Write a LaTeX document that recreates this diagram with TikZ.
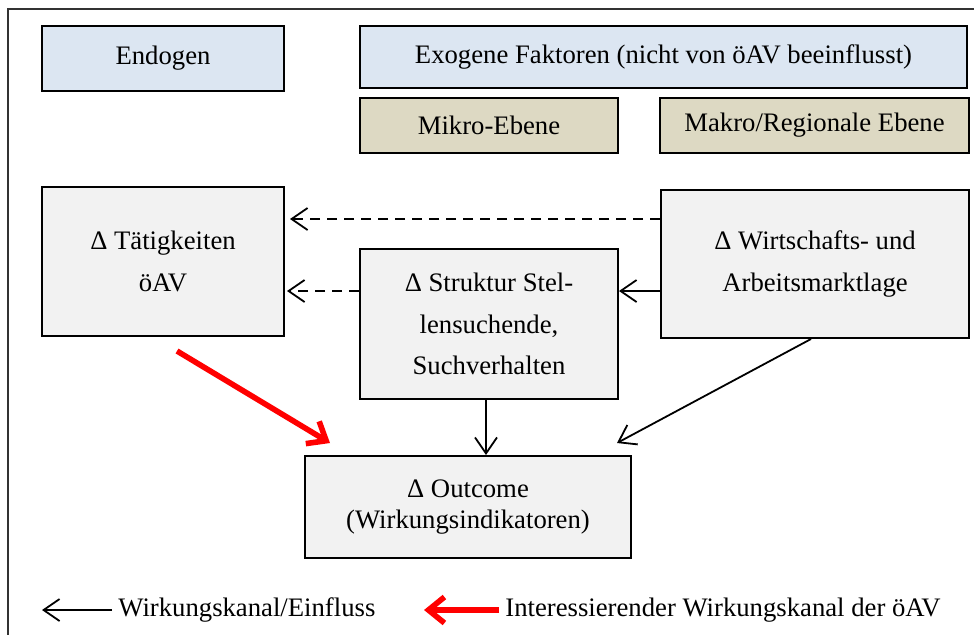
\documentclass[tikz,border=0pt]{standalone}
\usepackage{fontspec}
\setmainfont{Liberation Serif}
\usetikzlibrary{arrows.meta, positioning}
\definecolor{endoblue}{RGB}{220,230,242}
\definecolor{ebenetan}{RGB}{221,217,195}
\definecolor{faktorgray}{RGB}{242,242,242}
\definecolor{kanalred}{RGB}{255,0,0}

\begin{document}
\begin{tikzpicture}[
        x=0.5pt, y=-0.5pt,
        font=\fontsize{13.35}{20.7}\selectfont,
        kopf/.style={rectangle, draw=black, line width=1pt, fill=endoblue, align=center},
        ebene/.style={rectangle, draw=black, line width=1pt, fill=ebenetan, minimum height=27.5pt, align=center},
        faktor/.style={rectangle, draw=black, line width=1pt, fill=faktorgray, align=center},
        kanal/.style={draw, line width=0.9pt, -{Straight Barb[length=8pt, width=11pt]}},
        vermutet/.style={kanal, dash pattern=on 5pt off 3.5pt},
        interesse/.style={draw=kanalred, line width=2.8pt, -{Straight Barb[length=8pt, width=13pt]}},
        legende/.style={inner sep=3pt}
    ]
        \useasboundingbox (0,0) rectangle (974,634);
        \draw[line width=0.6pt, black!80] (8,9) rectangle (1000,660);

        \node[kopf, minimum width=121pt, minimum height=32.5pt, anchor=north west] (endo) at (41,25) {Endogen};
        \node[kopf, minimum width=303.5pt, minimum height=31pt, right=37pt of endo.north east, anchor=north west] (exo) {Exogene Faktoren (nicht von öAV beeinflusst)};
        \node[ebene, minimum width=129pt, below right=4pt and 0pt of exo.south west] (mikro) {Mikro-Ebene};
        \node[ebene, minimum width=154.5pt, below left=4pt and -1pt of exo.south east] (makro) {Makro/Regionale Ebene};

        \node[faktor, minimum width=121pt, minimum height=74.5pt, below right=47pt and 0pt of endo.south west] (taet) {Δ Tätigkeiten\\öAV};
        \node[faktor, minimum width=129pt, minimum height=75pt, below right=47pt and 0pt of mikro.south west] (struk) {Δ Struktur Stel-\\lensuchende,\\Suchverhalten};
        \node[faktor, minimum width=154pt, minimum height=74pt, below left=17.5pt and 0pt of makro.south east] (wirt) {Δ Wirtschafts- und\\Arbeitsmarktlage};
        \node[faktor, minimum width=163pt, minimum height=51pt, anchor=north west, font=\fontsize{13.35}{15.5}\selectfont] (outc) at (304,455) {Δ Outcome\\(Wirkungsindikatoren)};

        % Wirkungskanaele
        \draw[vermutet, shorten >=2.5pt] ([yshift=22.5pt]wirt.west) -- ([yshift=22.5pt]wirt.west -| taet.east);
        \draw[vermutet, shorten >=1pt] ([yshift=16.5pt]struk.west) -- ([yshift=16.5pt]struk.west -| taet.east);
        \draw[kanal] ([yshift=-13.5pt]wirt.west) -- ([yshift=-13.5pt]wirt.west -| struk.east);
        \draw[kanal] ([xshift=-1.5pt]struk.south) -- ([xshift=-1.5pt]struk.south |- outc.north);
        \draw[kanal] ([xshift=-2pt]wirt.south) -- ([xshift=-7.5pt, yshift=6pt]outc.north east);
        \draw[interesse] ([xshift=7pt, yshift=-7pt]taet.south) -- ([xshift=13pt, yshift=6pt]outc.north west);

        % Legende
        \coordinate (kanalend) at (42,610);
        \coordinate (interesseend) at (424,610);
        \node[legende, anchor=west] (legkanal) at (112,610) {Wirkungskanal/Einfluss};
        \node[legende, anchor=west] (leginteresse) at (499,610) {Interessierender Wirkungskanal der öAV};
        \draw[kanal] (legkanal.west) -- (kanalend);
        \draw[interesse] (leginteresse.west) -- (interesseend);
    \end{tikzpicture}
\end{document}
